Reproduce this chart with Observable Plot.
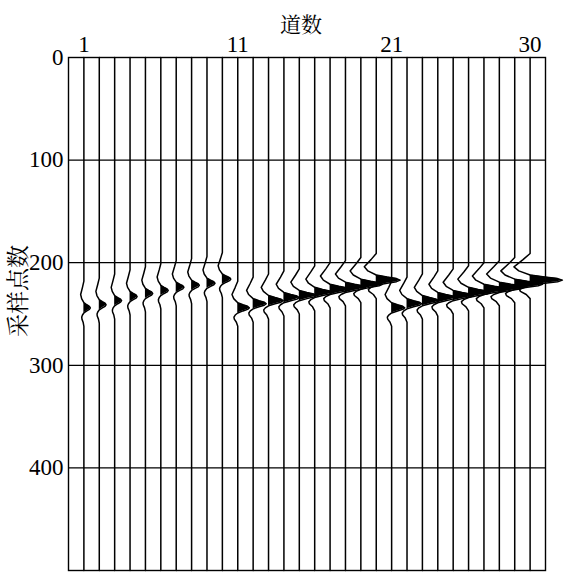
<!DOCTYPE html>
<html>
<head>
<meta charset="utf-8">
<script src="https://cdn.jsdelivr.net/npm/d3@7"></script>
<script src="https://cdn.jsdelivr.net/npm/@observablehq/plot@0.6"></script>
</head>
<body style="margin:0;background:#fff">
<div id="chart"></div>
<script>
// Trace numbers (道数)
const traces = [1,2,3,4,5,6,7,8,9,10,11,12,13,14,15,16,17,18,19,20,21,22,23,24,25,26,27,28,29,30];
// Peak sample (采样点) of the event on each trace
const peakTime = [244,241,237,233,230,227,224,222,220,216,
                  244,240,237,234,232,229,226,224,221,217,
                  244,240,237,234,232,229,226,224,221,217];
// Peak amplitude (in trace-spacing units)
const amplitude = [0.42,0.44,0.45,0.46,0.47,0.48,0.50,0.50,0.52,0.55,
                   0.75,0.85,0.95,1.00,1.10,1.15,1.25,1.30,1.40,1.55,
                   0.85,0.95,1.05,1.15,1.30,1.40,1.50,1.65,1.80,2.10];
// Wavelet shape: sample offset from peak and normalised value
const waveOffset = [-26,-20,-13,-9,-5,-3,-1.5,0,1.5,3,5,7,9,11,14,18];
const waveValue  = [0,-0.22,-0.50,-0.35,0,0.45,0.85,1,0.85,0.45,0,-0.22,-0.33,-0.30,-0.12,0];
const yTicks = [0,100,200,300,400];
const xTicks = [1,11,21,30];
const gridY = [100,200,300,400];
const sampleMax = 500;

const lineRows = [];
const fillRows = [];
traces.forEach((tr, i) => {
  lineRows.push({trace: tr, t: 0, x: tr});
  waveOffset.forEach((o, k) => {
    const v = waveValue[k];
    const row = {trace: tr, t: peakTime[i] + o, x: tr + amplitude[i] * v};
    lineRows.push(row);
    if (v >= 0) fillRows.push(row);
  });
  lineRows.push({trace: tr, t: sampleMax, x: tr});
});

const chart = Plot.plot({
  width: 585,
  height: 582,
  marginLeft: 68,
  marginRight: 40,
  marginTop: 57,
  marginBottom: 12,
  x: {domain: [0, 31]},
  y: {domain: [0, sampleMax], reverse: true},
  style: {fontFamily: "Liberation Serif", fontSize: "22px", color: "black", background: "white"},
  marks: [
    Plot.ruleY(gridY, {stroke: "black", strokeWidth: 1.2}),
    Plot.areaX(fillRows, {x1: "trace", x2: "x", y: "t", z: "trace", fill: "black"}),
    Plot.line(lineRows, {x: "x", y: "t", z: "trace", stroke: "black", strokeWidth: 1.5}),
    Plot.frame({stroke: "black", strokeWidth: 1.4}),
    Plot.axisX(xTicks, {anchor: "top", tickSize: 0, tickPadding: 6, label: null, fontSize: 23}),
    Plot.axisY(yTicks, {anchor: "left", tickSize: 0, tickPadding: 5, label: null, fontSize: 23}),
    Plot.text(["道数"], {frameAnchor: "top", dy: -40, dx: -6, fontSize: 21, fontFamily: "Noto Serif CJK SC"}),
    Plot.text(["采样点数"], {frameAnchor: "left", rotate: -90, textAnchor: "middle", dx: -50, dy: -23, fontSize: 23, fontFamily: "Noto Serif CJK SC"})
  ]
});
document.getElementById("chart").appendChild(chart);
</script>
</body>
</html>
